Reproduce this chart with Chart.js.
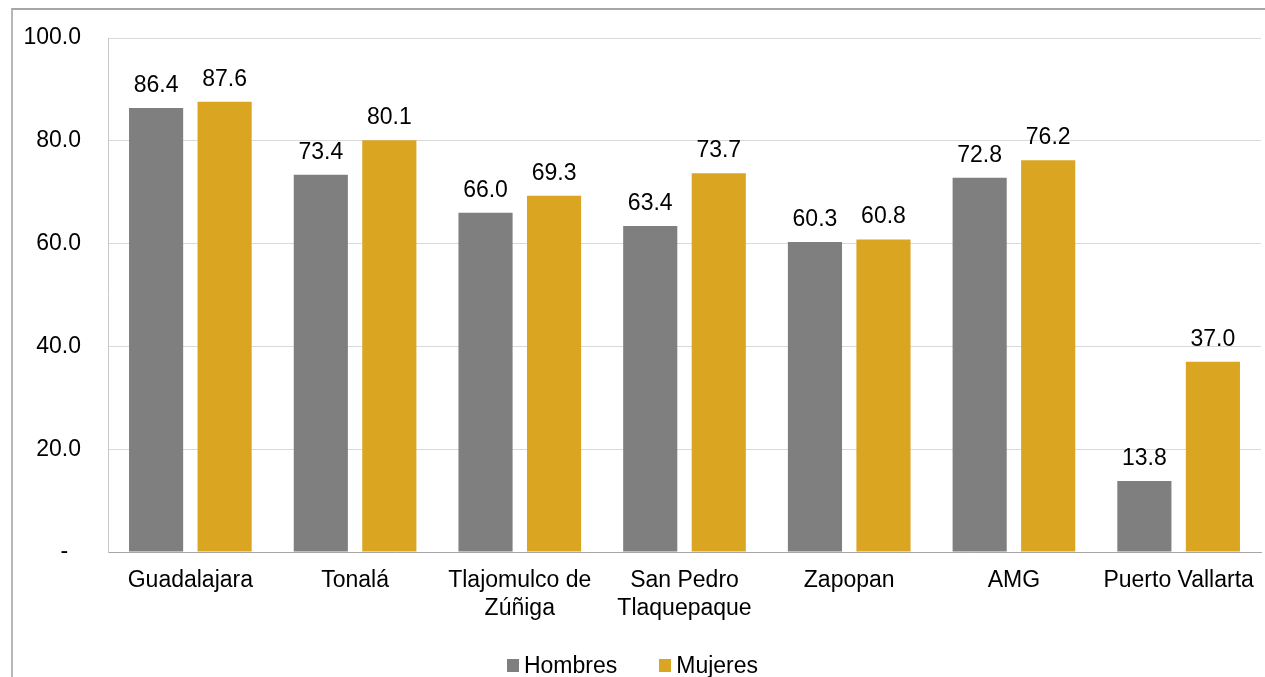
<!DOCTYPE html>
<html>
<head>
<meta charset="utf-8">
<script src="https://cdn.jsdelivr.net/npm/chart.js@4/dist/chart.umd.min.js"></script>
<style>
  body { margin: 0; background: #fff; overflow: hidden; font-family: 'Liberation Sans', Arial, sans-serif; }
  .marco { position: absolute; left: 11px; top: 8px; width: 1300px; height: 720px;
           border-left: 2px solid #b7b7b7; border-top: 2px solid #a6a6a6; }
  #grafica { position: absolute; left: 0; top: 0; }
  #leyenda { position: absolute; left: 0; top: 652px; width: 1265px; display: flex;
             justify-content: center; font-size: 23px; line-height: 26px; color: #000; }
  #leyenda .item { display: flex; align-items: center; margin: 0 21px; }
  #leyenda .caja { width: 12px; height: 13px; margin-right: 5px; }
</style>
</head>
<body>
<div class="marco"></div>
<canvas id="grafica" width="1265" height="700"></canvas>
<div id="leyenda"></div>
<script>
const municipios = ['Guadalajara', 'Tonalá', ['Tlajomulco de', 'Zúñiga'], ['San Pedro', 'Tlaquepaque'], 'Zapopan', 'AMG', 'Puerto Vallarta'];
const hombres = [86.4, 73.4, 66.0, 63.4, 60.3, 72.8, 13.8];
const mujeres = [87.6, 80.1, 69.3, 73.7, 60.8, 76.2, 37.0];
const marcasY = [0, 20, 40, 60, 80, 100];

const fuente = 'Liberation Sans, Arial, sans-serif';

// etiquetas encima de cada barra
const etiquetasBarras = {
  id: 'etiquetasBarras',
  afterDatasetsDraw(chart) {
    const ctx = chart.ctx;
    ctx.save();
    ctx.font = '23px ' + fuente;
    ctx.fillStyle = '#000';
    ctx.textAlign = 'center';
    ctx.textBaseline = 'alphabetic';
    chart.data.datasets.forEach((ds, i) => {
      chart.getDatasetMeta(i).data.forEach((barra, j) => {
        ctx.fillText(ds.data[j].toFixed(1), barra.x, barra.y - 16);
      });
    });
    ctx.restore();
  }
};

const grafica = new Chart(document.getElementById('grafica'), {
  type: 'bar',
  data: {
    labels: municipios,
    datasets: [
      { label: 'Hombres', data: hombres, backgroundColor: '#7f7f7f' },
      { label: 'Mujeres', data: mujeres, backgroundColor: '#daa520' }
    ]
  },
  options: {
    responsive: false,
    animation: false,
    categoryPercentage: 0.832,
    barPercentage: 0.79,
    layout: { padding: { top: 38, right: 4, left: 0, bottom: 54 } },
    plugins: {
      tooltip: { enabled: false },
      legend: { display: false }
    },
    scales: {
      x: {
        grid: { display: false, drawTicks: false },
        border: { color: '#a6a6a6', width: 1 },
        ticks: { font: { family: fuente, size: 23, lineHeight: 1.22 }, color: '#000', padding: 15, maxRotation: 0, autoSkip: false },
        afterFit(escala) {
          escala.height = 94;
          escala.paddingLeft = 0;
          escala.paddingRight = 0;
        }
      },
      y: {
        min: 0,
        max: 100,
        afterBuildTicks(escala) { escala.ticks = marcasY.map(v => ({ value: v })); },
        grid: { color: '#d9d9d9', drawTicks: false },
        border: { color: '#c8c8c8', width: 1 },
        ticks: {
          font: { family: fuente, size: 23 },
          color: '#000',
          padding: 27,
          callback: (v) => v === 0 ? '-  ' : v.toFixed(1)
        },
        afterFit(escala) {
          escala.width = 108;
          escala.paddingTop = 0;
          escala.paddingBottom = 0;
        }
      }
    }
  },
  plugins: [etiquetasBarras]
});

// leyenda en HTML, a partir de las series
const leyenda = document.getElementById('leyenda');
grafica.data.datasets.forEach((ds) => {
  const item = document.createElement('div');
  item.className = 'item';
  const caja = document.createElement('span');
  caja.className = 'caja';
  caja.style.background = ds.backgroundColor;
  item.appendChild(caja);
  item.appendChild(document.createTextNode(ds.label));
  leyenda.appendChild(item);
});
</script>
</body>
</html>
